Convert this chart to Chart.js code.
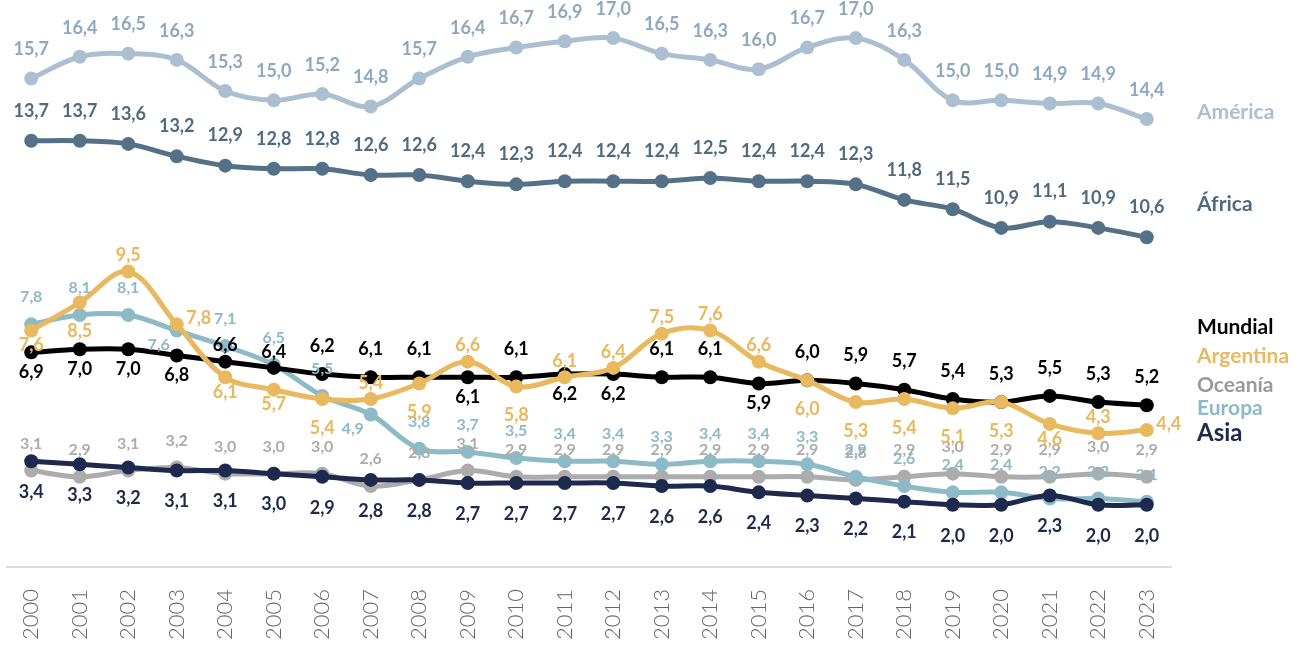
<!DOCTYPE html>
<html lang="es">
<head>
<meta charset="utf-8">
<title>Tasa por región 2000-2023</title>
<script src="https://cdn.jsdelivr.net/npm/chart.js@4.4.1/dist/chart.umd.min.js"></script>
<style>
  html, body { margin: 0; padding: 0; background: #fff; }
  #wrap { width: 1311px; height: 646px; }
</style>
</head>
<body>
<div id="wrap"><canvas id="chart" width="1311" height="646"></canvas></div>
<script>
const years = ['2000', '2001', '2002', '2003', '2004', '2005', '2006', '2007', '2008', '2009', '2010', '2011',
               '2012', '2013', '2014', '2015', '2016', '2017', '2018', '2019', '2020', '2021', '2022', '2023'];

const america   = [15.7, 16.4, 16.5, 16.3, 15.3, 15.0, 15.2, 14.8, 15.7, 16.4, 16.7, 16.9, 17.0, 16.5, 16.3, 16.0, 16.7, 17.0, 16.3, 15.0, 15.0, 14.9, 14.9, 14.4];
const africa    = [13.7, 13.7, 13.6, 13.2, 12.9, 12.8, 12.8, 12.6, 12.6, 12.4, 12.3, 12.4, 12.4, 12.4, 12.5, 12.4, 12.4, 12.3, 11.8, 11.5, 10.9, 11.1, 10.9, 10.6];
const mundial   = [6.9, 7.0, 7.0, 6.8, 6.6, 6.4, 6.2, 6.1, 6.1, 6.1, 6.1, 6.2, 6.2, 6.1, 6.1, 5.9, 6.0, 5.9, 5.7, 5.4, 5.3, 5.5, 5.3, 5.2];
const argentina = [7.6, 8.5, 9.5, 7.8, 6.1, 5.7, 5.4, 5.4, 5.9, 6.6, 5.8, 6.1, 6.4, 7.5, 7.6, 6.6, 6.0, 5.3, 5.4, 5.1, 5.3, 4.6, 4.3, 4.4];
const oceania   = [3.1, 2.9, 3.1, 3.2, 3.0, 3.0, 3.0, 2.6, 2.8, 3.1, 2.9, 2.9, 2.9, 2.9, 2.9, 2.9, 2.9, 2.8, 2.9, 3.0, 2.9, 2.9, 3.0, 2.9];
const europa    = [7.8, 8.1, 8.1, 7.6, 7.1, 6.5, 5.5, 4.9, 3.8, 3.7, 3.5, 3.4, 3.4, 3.3, 3.4, 3.4, 3.3, 2.9, 2.6, 2.4, 2.4, 2.2, 2.2, 2.1];
const asia      = [3.4, 3.3, 3.2, 3.1, 3.1, 3.0, 2.9, 2.8, 2.8, 2.7, 2.7, 2.7, 2.7, 2.6, 2.6, 2.4, 2.3, 2.2, 2.1, 2.0, 2.0, 2.3, 2.0, 2.0];

// where each value label sits: a = above, b = below, c = just above,
// d = just below, l = left, r = right
const posAmerica   = 'aaaaaaaaaaaaaaaaaaaaaaaa';
const posAfrica    = 'aaaaaaaaaaaaaaaaaaaaaaaa';
const posMundial   = 'bbbbccaaababbaabaaaaaaaa';
const posArgentina = 'dbarddbababaaaaabbbbbdar';
const posOceania   = 'aaaaaaaaaaaaaaaaaaaaaaaa';
const posEuropa    = 'aaalaaalaaaaaaaaaaaaaaaa';
const posAsia      = 'bbbbbbbbbbbbbbbbbbbbbbbb';

// height (in axis units) of the series names on the right
const nameLevels = { 'América': 14.63, 'África': 11.67, 'Mundial': 7.72, 'Argentina': 6.78, 'Oceanía': 5.85, 'Europa': 5.11, 'Asia': 4.31 };

function series(name, data, pos, line, text, order, opts) {
  return Object.assign({
    label: name,
    data: data,
    labelPos: pos,
    borderColor: line,
    backgroundColor: line,
    pointBackgroundColor: line,
    pointBorderColor: line,
    textColor: text,
    borderWidth: 5,
    pointRadius: 7,
    pointBorderWidth: 0,
    tension: 0.35,
    order: order,
    gapAbove: 29,
    gapBelow: 29,
    labelFont: 'bold 18px Lato',
    nameFont: 'bold 21px Lato',
    nameColor: text
  }, opts || {});
}

const datasets = [
  series('América', america, posAmerica, '#abbfd1', '#8ea8c0', 6, { nameColor: '#abbfd1' }),
  series('África', africa, posAfrica, '#557188', '#4f6b80', 5, { gapAbove: 30 }),
  series('Oceanía', oceania, posOceania, '#acacac', '#acacac', 4, { gapAbove: 27, labelFont: 'bold 16px Lato', nameColor: '#9a9a9a' }),
  series('Europa', europa, posEuropa, '#8dbac7', '#8dbac7', 3, { gapAbove: 27, labelFont: 'bold 16px Lato' }),
  series('Asia', asia, posAsia, '#1d2a4e', '#1d2a4e', 2, { gapBelow: 31, nameFont: 'bold 24px Lato' }),
  series('Mundial', mundial, posMundial, '#000000', '#000000', 1, { gapAbove: 28, gapBelow: 20 }),
  series('Argentina', argentina, posArgentina, '#e8b95e', '#e8b95e', 0, { gapAbove: 16, gapBelow: 29 })
];

const fmt = v => v.toFixed(1).replace('.', ',');

// numbers next to every point
const valueLabels = {
  id: 'valueLabels',
  afterDatasetsDraw(chart) {
    const ctx = chart.ctx;
    ctx.save();
    ctx.textAlign = 'center';
    ctx.textBaseline = 'middle';
    chart.data.datasets.forEach((ds, i) => {
      const meta = chart.getDatasetMeta(i);
      ctx.font = ds.labelFont;
      ctx.fillStyle = ds.textColor;
      meta.data.forEach((pt, j) => {
        let dx = 0, dy = 0;
        const p = ds.labelPos[j];
        if (p === 'a') dy = -ds.gapAbove;
        else if (p === 'b') dy = ds.gapBelow;
        else if (p === 'c') dy = -16;
        else if (p === 'd') dy = 15;
        else if (p === 'l') { dx = -18; dy = 14; }
        else if (p === 'r') { dx = 22; dy = -6; }
        ctx.fillText(fmt(ds.data[j]), pt.x + dx, pt.y + dy);
      });
    });
    ctx.restore();
  }
};

// series names in the right margin
const seriesNames = {
  id: 'seriesNames',
  afterDraw(chart) {
    const ctx = chart.ctx;
    const y = chart.scales.y;
    const x0 = chart.chartArea.right + 26;
    ctx.save();
    ctx.textAlign = 'left';
    ctx.textBaseline = 'middle';
    chart.data.datasets.forEach(ds => {
      ctx.font = ds.nameFont;
      ctx.fillStyle = ds.nameColor;
      ctx.fillText(ds.label, x0, y.getPixelForValue(nameLevels[ds.label]));
    });
    ctx.restore();
  }
};

new Chart(document.getElementById('chart'), {
  type: 'line',
  data: { labels: years, datasets: datasets },
  options: {
    responsive: false,
    animation: false,
    layout: { padding: { top: 7, left: 6, right: 140, bottom: 0 } },
    plugins: { legend: { display: false }, tooltip: { enabled: false } },
    scales: {
      x: {
        offset: true,
        grid: { display: false },
        border: { display: true, color: '#dddddd', width: 2 },
        ticks: {
          minRotation: 90,
          maxRotation: 90,
          padding: 14,
          color: '#666666',
          font: { family: 'Lato', size: 22, weight: '300' }
        },
        afterFit(scale) { scale.height = 79; }
      },
      y: { display: false, min: 0, max: 18 }
    }
  },
  plugins: [valueLabels, seriesNames]
});
</script>
</body>
</html>
